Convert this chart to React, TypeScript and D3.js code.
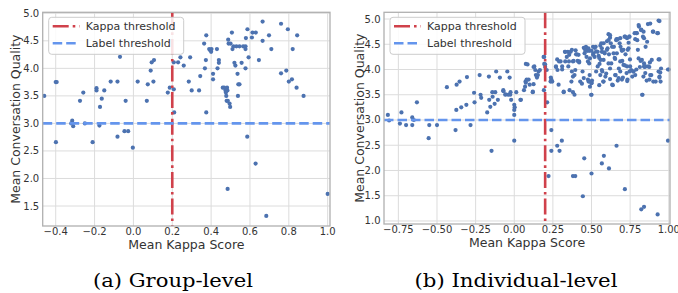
import * as d3 from 'd3';

// Group-level: [mean kappa, mean quality]
const groupPoints: [number, number][] = [
  [-0.459, 3.5], [-0.4, 3.75], [-0.395, 3.75], [-0.399, 2.66], [-0.315, 3.05], [-0.31, 2.95],
  [-0.32, 3.0], [-0.275, 3.41], [-0.258, 3.56], [-0.25, 3.0], [-0.21, 2.66], [-0.19, 3.64],
  [-0.19, 3.6], [-0.175, 2.96], [-0.172, 3.3], [-0.163, 3.45], [-0.15, 3.6], [-0.117, 3.76],
  [-0.082, 3.76], [-0.082, 2.76], [-0.069, 4.21], [-0.046, 2.86], [-0.04, 3.41], [-0.027, 2.86],
  [-0.003, 2.56], [0.022, 3.76], [0.069, 3.41], [0.074, 3.71], [0.089, 3.96], [0.094, 4.11],
  [0.106, 4.15], [0.103, 3.76], [0.177, 3.56], [0.187, 3.65], [0.208, 3.62], [0.208, 4.11],
  [0.21, 3.2], [0.23, 4.11], [0.242, 4.2], [0.259, 4.05], [0.292, 4.2], [0.285, 3.76],
  [0.3, 3.6], [0.338, 3.6], [0.344, 3.86], [0.364, 4.45], [0.368, 4.0], [0.373, 4.15],
  [0.375, 4.6], [0.375, 3.2], [0.39, 4.35], [0.395, 4.33], [0.4, 4.3], [0.402, 4.35],
  [0.41, 3.9], [0.41, 3.8], [0.43, 4.35], [0.433, 4.0], [0.44, 4.15], [0.44, 4.1],
  [0.46, 3.65], [0.467, 3.65], [0.474, 3.6], [0.476, 3.56], [0.478, 3.5], [0.48, 3.41],
  [0.486, 3.41], [0.482, 3.65], [0.484, 3.6], [0.488, 4.52], [0.495, 3.36], [0.498, 3.3],
  [0.49, 4.45], [0.5, 4.45], [0.507, 4.65], [0.51, 4.35], [0.515, 4.4], [0.52, 4.1],
  [0.525, 4.05], [0.53, 4.4], [0.536, 3.9], [0.54, 3.71], [0.546, 3.71], [0.538, 3.5],
  [0.546, 4.4], [0.557, 4.1], [0.565, 4.4], [0.577, 4.4], [0.577, 4.35], [0.579, 4.55],
  [0.577, 4.0], [0.587, 4.71], [0.593, 4.2], [0.61, 4.56], [0.613, 4.65], [0.63, 4.65],
  [0.646, 4.15], [0.665, 4.85], [0.665, 4.5], [0.698, 4.6], [0.71, 4.35], [0.76, 4.81],
  [0.76, 3.91], [0.787, 3.96], [0.795, 4.71], [0.8, 3.76], [0.816, 3.8], [0.82, 4.35],
  [0.84, 3.65], [0.843, 4.6], [0.876, 3.5], [0.485, 1.81], [0.586, 2.76], [0.629, 2.27],
  [0.684, 1.32], [1.0, 1.72],
];

// Individual-level: [mean kappa, mean quality]
const individualPoints: [number, number][] = [
  [-0.818, 3.1], [-0.81, 2.99], [-0.73, 3.15], [-0.74, 2.93], [-0.7, 2.9], [-0.66, 2.9],
  [-0.66, 3.05], [-0.65, 3.0], [-0.63, 3.35], [-0.55, 2.9], [-0.5, 2.9], [-0.436, 3.65],
  [-0.375, 3.2], [-0.373, 3.7], [-0.354, 3.76], [-0.343, 3.25], [-0.31, 3.3], [-0.306, 3.85],
  [-0.283, 2.9], [-0.26, 3.54], [-0.257, 3.35], [-0.224, 3.89], [-0.218, 3.5], [-0.214, 3.44],
  [-0.175, 3.15], [-0.164, 3.86], [-0.155, 3.26], [-0.162, 3.4], [-0.142, 3.55], [-0.14, 3.46],
  [-0.127, 3.32], [-0.123, 3.55], [-0.117, 3.96], [-0.106, 3.4], [-0.093, 3.84], [-0.071, 3.59],
  [-0.045, 3.96], [-0.056, 3.51], [-0.04, 3.5], [-0.026, 3.5], [-0.02, 3.4], [0.0, 3.3],
  [0.003, 3.25], [0.0, 3.2], [0.0, 3.1], [0.04, 3.4], [0.063, 3.59], [0.073, 3.76],
  [0.075, 4.11], [0.093, 3.8], [0.1, 3.7], [0.12, 3.56], [0.125, 4.05], [0.14, 3.89],
  [0.157, 3.96], [0.166, 3.99], [0.19, 4.25], [0.194, 4.11], [0.192, 3.59], [0.2, 4.05],
  [0.21, 3.99], [0.213, 3.35], [0.235, 3.76], [0.24, 3.8], [0.27, 4.05], [0.278, 4.2],
  [0.287, 3.7], [0.3, 4.16], [0.31, 4.0], [0.33, 4.16], [0.328, 4.35], [0.32, 3.56],
  [0.347, 4.35], [0.354, 4.16], [0.358, 3.59], [0.37, 3.76], [0.373, 3.96], [0.38, 4.16],
  [0.39, 3.5], [0.39, 3.89], [0.397, 4.38], [0.4, 4.3], [0.41, 4.17], [0.42, 4.16],
  [0.427, 3.76], [0.438, 3.72], [0.442, 3.96], [0.45, 4.43], [0.455, 4.32], [0.466, 4.43],
  [0.472, 4.37], [0.468, 4.25], [0.477, 4.16], [0.481, 3.76], [0.488, 3.89], [0.498, 3.5],
  [0.503, 3.78], [0.51, 4.45], [0.513, 4.32], [0.52, 4.25], [0.527, 4.45], [0.53, 3.96],
  [0.54, 4.35], [0.546, 4.27], [0.552, 4.11], [0.559, 4.19], [0.563, 4.52], [0.567, 4.35],
  [0.57, 3.96], [0.576, 3.76], [0.585, 4.32], [0.59, 3.86], [0.6, 4.56], [0.604, 4.42],
  [0.61, 4.7], [0.613, 4.3], [0.62, 4.63], [0.628, 4.12], [0.634, 3.7], [0.645, 4.45],
  [0.65, 4.23], [0.656, 3.89], [0.662, 4.6], [0.664, 4.32], [0.67, 3.78], [0.677, 4.02],
  [0.682, 4.52], [0.688, 4.45], [0.695, 4.39], [0.699, 4.17], [0.703, 3.84], [0.714, 4.65],
  [0.716, 4.08], [0.72, 4.3], [0.727, 3.93], [0.731, 3.77], [0.735, 4.39], [0.74, 4.53],
  [0.744, 4.65], [0.749, 4.2], [0.757, 3.99], [0.764, 3.86], [0.77, 3.96], [0.779, 4.72],
  [0.783, 4.6], [0.79, 4.72], [0.796, 4.58], [0.8, 4.39], [0.807, 4.85], [0.813, 4.05],
  [0.818, 4.17], [0.822, 4.79], [0.828, 3.5], [0.833, 4.65], [0.84, 4.12], [0.844, 4.05],
  [0.848, 3.93], [0.857, 3.78], [0.865, 4.9], [0.874, 4.05], [0.878, 4.14], [0.887, 3.89],
  [0.897, 4.75], [0.915, 3.76], [0.926, 4.72], [0.934, 4.97], [0.934, 4.2], [0.934, 3.96],
  [0.94, 3.86], [0.947, 3.76], [0.995, 4.0], [1.0, 4.0],
  // denser core
  [-0.03, 3.84], [-0.07, 3.57], [-0.024, 3.55], [0.013, 3.55], [0.043, 3.4], [0.07, 3.66],
  [0.075, 3.74], [0.086, 4.1], [0.12, 3.55], [0.13, 4.06], [0.136, 3.99], [0.147, 3.84],
  [0.153, 3.89], [0.194, 4.25], [0.2, 4.1], [0.237, 3.84], [0.246, 3.76], [0.27, 4.06],
  [0.28, 3.99], [0.29, 4.16], [0.31, 4.06], [0.33, 4.35], [0.34, 4.25], [0.35, 4.06],
  [0.365, 4.35], [0.356, 4.29], [0.373, 4.39], [0.384, 4.17], [0.38, 3.86], [0.395, 3.99],
  [0.405, 4.3], [0.416, 4.29], [0.42, 4.14], [0.45, 3.83], [0.455, 4.42], [0.464, 4.45],
  [0.46, 4.37], [0.477, 3.8], [0.485, 4.37], [0.485, 4.12], [0.5, 3.73], [0.32, 3.55],
  [0.38, 3.55], [0.125, 3.71], [-0.058, 3.5], [0.08, 3.8],
  [0.48, 4.42], [0.5, 4.37], [0.51, 4.29], [0.52, 4.43], [0.53, 4.36], [0.557, 4.47],
  [0.567, 4.42], [0.578, 4.52], [0.582, 4.34], [0.6, 4.39], [0.61, 4.58], [0.62, 4.68],
  [0.625, 4.52], [0.633, 4.45], [0.643, 4.32], [0.66, 4.58], [0.67, 4.6], [0.686, 4.62],
  [0.697, 4.37], [0.707, 4.39], [0.718, 4.65], [0.73, 4.62], [0.746, 4.65], [0.74, 4.42],
  [0.794, 4.72], [0.805, 4.88], [0.82, 4.78], [0.837, 4.75], [0.84, 4.62], [0.85, 4.45],
  [0.86, 4.55], [0.88, 4.91], [0.9, 4.75], [0.93, 4.72], [0.94, 4.96], [0.49, 4.22],
  [0.55, 4.23], [0.578, 4.19], [0.61, 4.12], [0.653, 4.21], [0.686, 4.16], [0.707, 4.09],
  [0.73, 4.06], [0.772, 3.96], [0.783, 3.89], [0.79, 4.0], [0.805, 4.22], [0.826, 4.19],
  [0.84, 4.06], [0.85, 4.06], [0.868, 4.06], [0.836, 3.86], [0.88, 3.89], [0.89, 4.19],
  [0.94, 4.2], [0.95, 4.02], [0.945, 3.94], [0.94, 3.84], [0.9, 3.76], [0.875, 3.8],
  [0.83, 3.5], [0.5, 3.5], [0.5, 3.74], [0.49, 3.66], [0.55, 3.69], [0.578, 3.76],
  [0.557, 3.89], [0.567, 3.99], [0.62, 4.02], [0.638, 3.69], [0.653, 3.89], [0.675, 3.83],
  [0.686, 3.96], [0.697, 3.8], [0.733, 3.8], [0.746, 3.96], [0.75, 4.06], [0.62, 3.81],
  [0.595, 3.92], [0.54, 4.06],
  // below the label threshold
  [-0.554, 2.64], [-0.38, 2.8], [-0.147, 2.39], [0.0, 2.59], [0.222, 1.89], [0.24, 2.8],
  [0.24, 2.39], [0.278, 2.49], [0.293, 2.39], [0.308, 2.59], [0.38, 1.89], [0.395, 1.89],
  [0.444, 1.49], [0.453, 2.24], [0.5, 1.94], [0.567, 2.14], [0.58, 2.29], [0.613, 2.04],
  [0.662, 2.49], [0.716, 1.63], [0.822, 1.23], [0.84, 1.28], [0.928, 1.13], [0.995, 2.59],
];

const groupXTicks = [-0.4, -0.2, 0.0, 0.2, 0.4, 0.6, 0.8, 1.0];
const groupYTicks = [1.5, 2.0, 2.5, 3.0, 3.5, 4.0, 4.5, 5.0];
const indivXTicks = [-0.75, -0.5, -0.25, 0.0, 0.25, 0.5, 0.75, 1.0];
const indivYTicks = [1.0, 1.5, 2.0, 2.5, 3.0, 3.5, 4.0, 4.5, 5.0];

const kappaThreshold = 0.2;
const labelThreshold = 3.0;
const legendLabels = ['Kappa threshold', 'Label threshold'];
const captions = ['(a) Group-level', '(b) Individual-level'];

const FONT = '"DejaVu Sans", sans-serif';
const RED = '#d0414b';
const BLUE = '#6495ed';
const DOT = '#4c72b0';
const TXT = '#333333';

type PanelProps = {
  points: [number, number][];
  xDomain: [number, number];
  yDomain: [number, number];
  xTicks: number[];
  yTicks: number[];
  xFmt: (v: number) => string;
  box: { left: number; right: number; top: number; bottom: number };
  ylabelX: number;
  xlabelY: number;
  caption: string;
  captionX: number;
  captionW: number;
};

function Panel(p: PanelProps) {
  const { box } = p;
  const x = d3.scaleLinear().domain(p.xDomain).range([box.left, box.right]);
  const y = d3.scaleLinear().domain(p.yDomain).range([box.bottom, box.top]);
  const yFmt = d3.format('.1f');
  const midY = (box.top + box.bottom) / 2;
  const midX = (box.left + box.right) / 2;
  const lg = { x: box.left + 6, y: box.top + 5 };

  return (
    <g>
      {/* grid */}
      {p.xTicks.map((t) => (
        <line key={'gx' + t} x1={x(t)} x2={x(t)} y1={box.top} y2={box.bottom} stroke="#dcdcdc" strokeWidth={1} />
      ))}
      {p.yTicks.map((t) => (
        <line key={'gy' + t} x1={box.left} x2={box.right} y1={y(t)} y2={y(t)} stroke="#dcdcdc" strokeWidth={1} />
      ))}

      {/* points */}
      {p.points.map((d, i) => (
        <circle key={i} cx={x(d[0])} cy={y(d[1])} r={2.1} fill={DOT} />
      ))}

      {/* thresholds */}
      <line x1={x(kappaThreshold)} x2={x(kappaThreshold)} y1={box.top} y2={box.bottom}
        stroke={RED} strokeWidth={2.6} strokeDasharray="16,4,2.6,4" />
      <line x1={box.left} x2={box.right} y1={y(labelThreshold)} y2={y(labelThreshold)}
        stroke={BLUE} strokeWidth={2.6} strokeDasharray="9.5,4" />

      {/* spines */}
      <rect x={box.left} y={box.top} width={box.right - box.left} height={box.bottom - box.top}
        fill="none" stroke="#b0b0b0" strokeWidth={1.3} />

      {/* tick labels */}
      {p.xTicks.map((t) => (
        <text key={'tx' + t} x={x(t)} y={box.bottom + 9} textAnchor="middle"
          fontFamily={FONT} fontSize={10} fill={TXT}>{p.xFmt(t)}</text>
      ))}
      {p.yTicks.map((t) => (
        <text key={'ty' + t} x={box.left - 3.5} y={y(t)} dy="0.35em" textAnchor="end"
          fontFamily={FONT} fontSize={10} fill={TXT}>{yFmt(t)}</text>
      ))}

      {/* axis labels */}
      <text x={midX} y={p.xlabelY} textAnchor="middle" fontFamily={FONT} fontSize={12.5} fill={TXT}>
        Mean Kappa Score
      </text>
      <text transform={`translate(${p.ylabelX},${midY}) rotate(-90)`} textAnchor="middle"
        fontFamily={FONT} fontSize={12.5} fill={TXT}>
        Mean Conversation Quality
      </text>

      {/* legend */}
      <rect x={lg.x} y={lg.y} width={135} height={37} rx={3} fill="#ffffff" fillOpacity={0.85}
        stroke="#cccccc" strokeWidth={1} />
      <line x1={lg.x + 4} x2={lg.x + 31} y1={lg.y + 9} y2={lg.y + 9} stroke={RED} strokeWidth={2.6}
        strokeDasharray="16,4,2.6,4" />
      <line x1={lg.x + 4} x2={lg.x + 31} y1={lg.y + 26} y2={lg.y + 26} stroke={BLUE} strokeWidth={2.6}
        strokeDasharray="9.5,4" />
      {legendLabels.map((l, i) => (
        <text key={l} x={lg.x + 37} y={lg.y + 13 + i * 17} fontFamily={FONT} fontSize={11} fill={TXT}>{l}</text>
      ))}

      {/* caption */}
      <text x={p.captionX} y={287} textAnchor="middle" fontFamily='"DejaVu Serif", serif' fontSize={19}
        textLength={p.captionW} lengthAdjust="spacingAndGlyphs" fill="#000">{p.caption}</text>
    </g>
  );
}

export default function App() {
  const fmt1 = d3.format('.1f');
  const fmt2 = d3.format('.2f');
  return (
    <svg width={678} height={293} style={{ position: 'absolute', left: 0, top: 0, background: '#fff' }}>
      <rect width={678} height={293} fill="#fff" />
      <Panel
        points={groupPoints}
        xDomain={[-0.467, 1.012]}
        yDomain={[1.137, 5.018]}
        xTicks={groupXTicks}
        yTicks={groupYTicks}
        xFmt={fmt1}
        box={{ left: 42.7, right: 330, top: 12.3, bottom: 226 }}
        ylabelX={20}
        xlabelY={249}
        caption={captions[0]}
        captionX={173}
        captionW={160}
      />
      <Panel
        points={individualPoints}
        xDomain={[-0.843, 1.008]}
        yDomain={[0.94, 5.133]}
        xTicks={indivXTicks}
        yTicks={indivYTicks}
        xFmt={fmt2}
        box={{ left: 384, right: 670, top: 12.3, bottom: 224 }}
        ylabelX={364}
        xlabelY={247}
        caption={captions[1]}
        captionX={516}
        captionW={203}
      />
    </svg>
  );
}
